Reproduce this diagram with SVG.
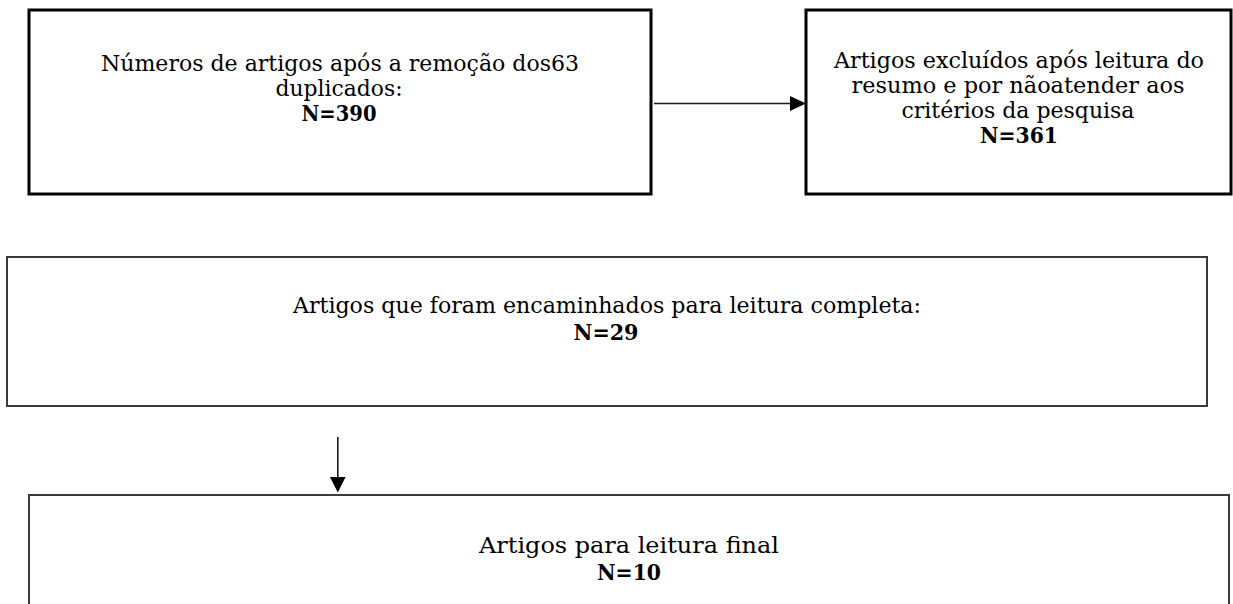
<svg xmlns="http://www.w3.org/2000/svg" width="1233" height="604" viewBox="0 0 1233 604">
  <style>
    .box1 { fill: #ffffff; stroke: #000000; stroke-width: 3; }
    .box2 { fill: #ffffff; stroke: #3a3a3a; stroke-width: 2; }
    .t { font-family: "DejaVu Serif", "Liberation Serif", serif; font-size: 21.5px; fill: #000000; text-anchor: middle; }
    .b { font-weight: bold; }
    .conn { stroke: #1a1a1a; stroke-width: 1.6; fill: none; }
    .head { fill: #000000; }
  </style>
  <rect width="1233" height="604" fill="#ffffff"/>
  <g id="node-duplicados">
    <rect class="box1" x="29" y="10" width="622" height="184"/>
    <text class="t" x="340" y="71" textLength="478" lengthAdjust="spacingAndGlyphs">Números de artigos após a remoção dos63</text>
    <text class="t" x="339" y="96" textLength="127" lengthAdjust="spacingAndGlyphs">duplicados:</text>
    <text class="t b" x="339" y="121" textLength="75" lengthAdjust="spacingAndGlyphs">N=390</text>
  </g>
  <g id="node-excluidos">
    <rect class="box1" x="806" y="10" width="425" height="184"/>
    <text class="t" x="1019" y="68" textLength="370" lengthAdjust="spacingAndGlyphs">Artigos excluídos após leitura do</text>
    <text class="t" x="1018" y="93" textLength="333" lengthAdjust="spacingAndGlyphs">resumo e por nãoatender aos</text>
    <text class="t" x="1018" y="118" textLength="233" lengthAdjust="spacingAndGlyphs">critérios da pesquisa</text>
    <text class="t b" x="1019" y="143" textLength="78" lengthAdjust="spacingAndGlyphs">N=361</text>
  </g>
  <g id="node-completa">
    <rect class="box2" x="7" y="257" width="1200" height="149"/>
    <text class="t" x="607" y="313" textLength="628" lengthAdjust="spacingAndGlyphs">Artigos que foram encaminhados para leitura completa:</text>
    <text class="t b" x="606" y="340" textLength="65" lengthAdjust="spacingAndGlyphs">N=29</text>
  </g>
  <g id="node-final">
    <rect class="box2" x="29" y="495" width="1200" height="130"/>
    <text class="t" x="629" y="553" textLength="300" lengthAdjust="spacingAndGlyphs">Artigos para leitura final</text>
    <text class="t b" x="629" y="580" textLength="64" lengthAdjust="spacingAndGlyphs">N=10</text>
  </g>
  <g id="connectors">
    <line class="conn" x1="654" y1="103.5" x2="792" y2="103.5"/>
    <polygon class="head" points="790,96 806,103.5 790,111"/>
    <line class="conn" x1="337.8" y1="437" x2="337.8" y2="479"/>
    <polygon class="head" points="330,477 345.6,477 337.8,492.5"/>
  </g>
</svg>
